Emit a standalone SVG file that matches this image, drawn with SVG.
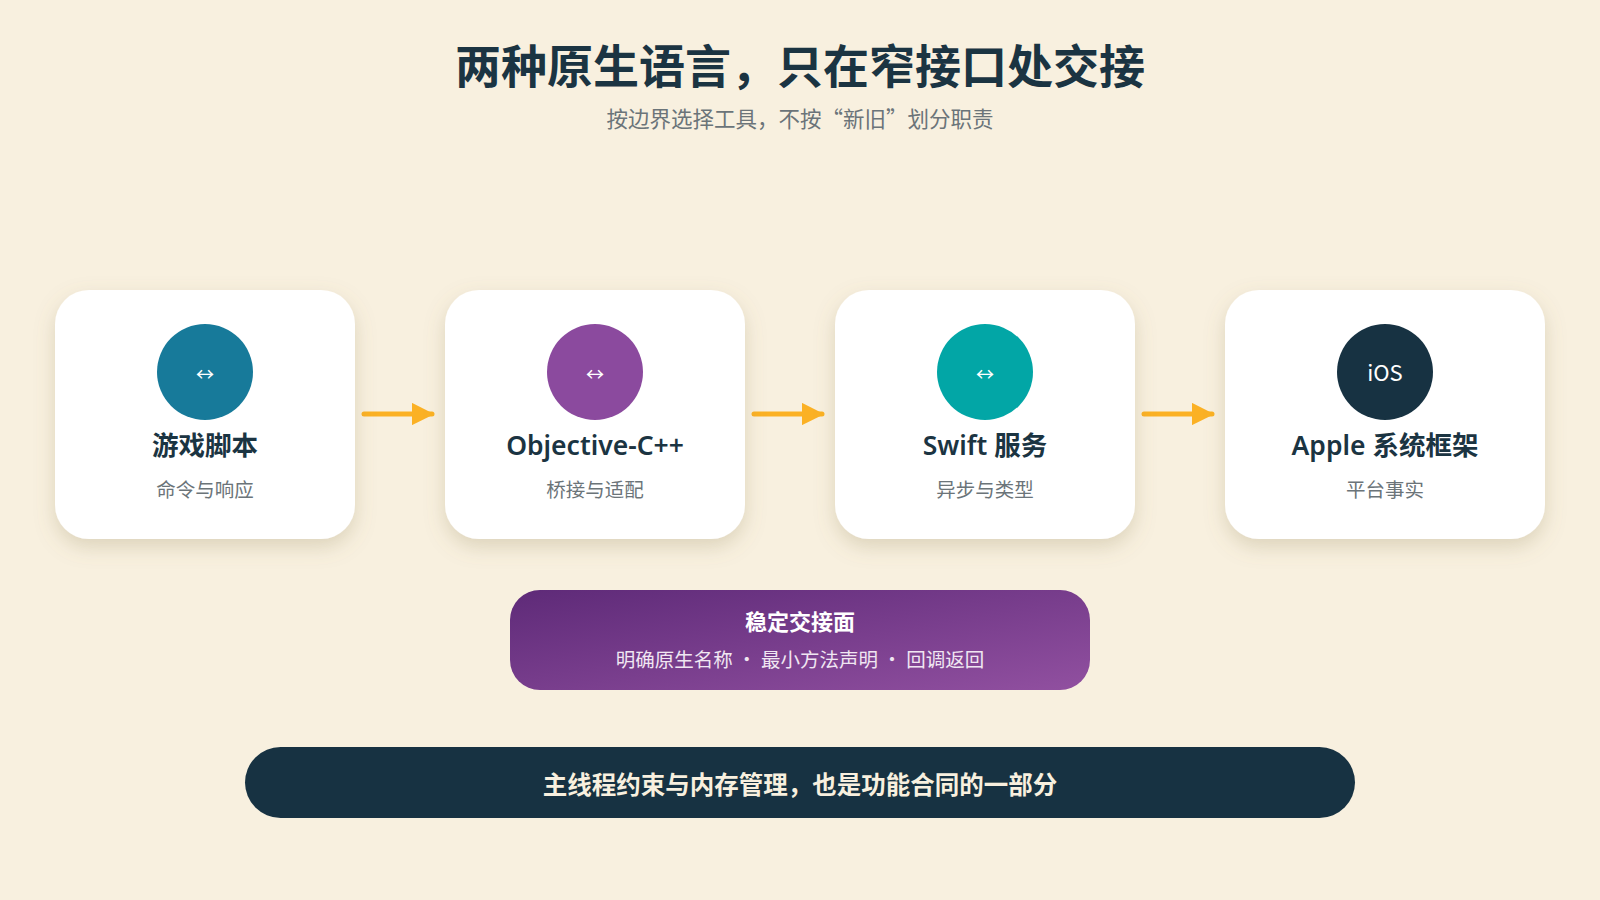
<svg xmlns="http://www.w3.org/2000/svg" width="1600" height="900" viewBox="0 0 1600 900">
<defs>
<filter id="sh" x="-20%" y="-20%" width="140%" height="150%"><feDropShadow dx="0" dy="8" stdDeviation="10" flood-color="#8a7a50" flood-opacity="0.25"/></filter>
<linearGradient id="pg" x1="0" y1="0" x2="1" y2="1"><stop offset="0" stop-color="#5e2a78"/><stop offset="1" stop-color="#9150a0"/></linearGradient>
<marker id="ah" viewBox="0 0 10 10" refX="9" refY="5" markerWidth="4.5" markerHeight="4.5" orient="auto"><path d="M0,0L10,5L0,10z" fill="#fbb124"/></marker>
</defs>
<style>
.card{fill:#fff;filter:url(#sh)}
.t{font-family:"Noto Sans CJK SC","Noto Sans",sans-serif;text-anchor:middle}
.nt{font-family:"Noto Sans","Noto Sans CJK SC",sans-serif;font-size:26.5px;font-weight:600;fill:#1b3442}
.ns{font-size:19.5px;fill:#6b7479}
.ic{font-size:18px;fill:#fff}
.cn{stroke:#fbb124;stroke-width:5;stroke-linecap:round;fill:none;marker-end:url(#ah)}
</style>
<rect width="1600" height="900" fill="#f8f0df"/>
<text class="t" x="800" y="83" font-size="46" font-weight="700" fill="#1b3442">两种原生语言，只在窄接口处交接</text>
<text class="t" x="800" y="127" font-size="21.5" fill="#6b7479">按边界选择工具，不按“新旧”划分职责</text>
<g id="connectors">
<line class="cn" x1="364" y1="414" x2="432" y2="414"/>
<line class="cn" x1="754" y1="414" x2="822" y2="414"/>
<line class="cn" x1="1144" y1="414" x2="1212" y2="414"/>
</g>
<g id="n1"><rect class="card" x="55" y="290" width="300" height="249" rx="34"/><circle cx="205" cy="372" r="48" fill="#177a9a"/><text class="t ic" x="205" y="381">↔</text><text class="t nt" x="205" y="455">游戏脚本</text><text class="t ns" x="205" y="497">命令与响应</text></g>
<g id="n2"><rect class="card" x="445" y="290" width="300" height="249" rx="34"/><circle cx="595" cy="372" r="48" fill="#8b4a9e"/><text class="t ic" x="595" y="381">↔</text><text class="t nt" x="595" y="455">Objective-C++</text><text class="t ns" x="595" y="497">桥接与适配</text></g>
<g id="n3"><rect class="card" x="835" y="290" width="300" height="249" rx="34"/><circle cx="985" cy="372" r="48" fill="#02a6a6"/><text class="t ic" x="985" y="381">↔</text><text class="t nt" x="985" y="455">Swift 服务</text><text class="t ns" x="985" y="497">异步与类型</text></g>
<g id="n4"><rect class="card" x="1225" y="290" width="320" height="249" rx="34"/><circle cx="1385" cy="372" r="48" fill="#173242"/><text class="t" x="1385" y="381" font-size="22" fill="#fff">iOS</text><text class="t nt" x="1385" y="455">Apple 系统框架</text><text class="t ns" x="1385" y="497">平台事实</text></g>
<g id="interface"><rect x="510" y="590" width="580" height="100" rx="30" fill="url(#pg)"/><text class="t" x="800" y="630" font-size="22" font-weight="700" fill="#fff">稳定交接面</text><text class="t" x="800" y="667" font-size="19.5" fill="#f0e6f2">明确原生名称 · 最小方法声明 · 回调返回</text></g>
<g id="footer"><rect x="245" y="747" width="1110" height="71" rx="35.5" fill="#173242"/><text class="t" x="800" y="794" font-size="24.5" font-weight="700" fill="#f8f0df">主线程约束与内存管理，也是功能合同的一部分</text></g>
</svg>
